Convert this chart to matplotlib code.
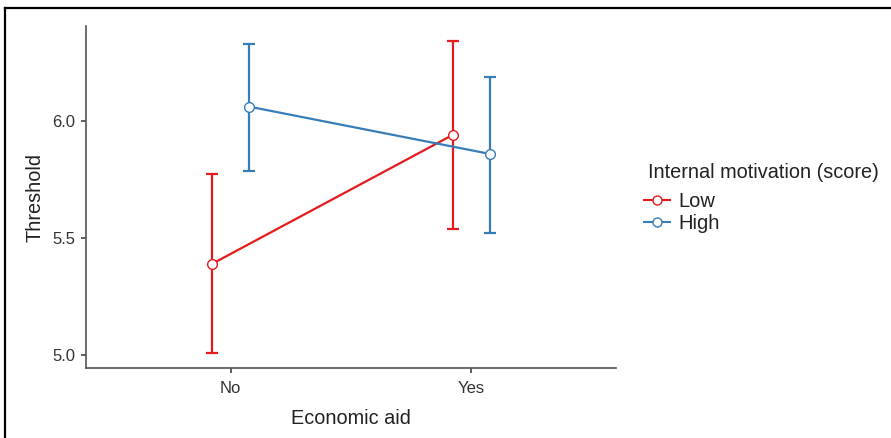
import matplotlib
matplotlib.use("Agg")
import matplotlib.pyplot as plt
from matplotlib.lines import Line2D
import numpy as np

plt.rcParams['font.family'] = ['Liberation Sans', 'DejaVu Sans']

# Data: estimated marginal means of threshold with confidence limits
aid_levels = ["No", "Yes"]
groups = ["Low", "High"]
means = {"Low": [5.389, 5.940], "High": [6.060, 5.858]}
lower = {"Low": [5.009, 5.538], "High": [5.786, 5.521]}
upper = {"Low": [5.774, 6.342], "High": [6.329, 6.188]}
colors = {"Low": "#E41A1C", "High": "#377EB8"}
dodge = {"Low": -0.076, "High": 0.076}
y_ticks = [5.0, 5.5, 6.0]

W, H, DPI = 891, 438, 100
fig = plt.figure(figsize=(W / DPI, H / DPI), dpi=DPI)
ax = fig.add_axes([86 / W, 1 - 368 / H, (616 - 86) / W, (368 - 26) / H])

x = np.arange(len(aid_levels))
for g in groups:
    xs = x + dodge[g]
    m = np.array(means[g])
    lo = m - np.array(lower[g])
    hi = np.array(upper[g]) - m
    ax.errorbar(xs, m, yerr=[lo, hi], color=colors[g], lw=1.6,
                capsize=4.5, capthick=1.6, fmt='none', zorder=2)
    ax.plot(xs, m, color=colors[g], lw=1.6, marker='o', ms=7,
            mfc='white', mec=colors[g], mew=1.0, zorder=3)

ax.set_xlim(-0.6, 1.6)
ax.set_ylim(4.944, 6.404)
ax.set_xticks(x)
ax.set_xticklabels(aid_levels)
ax.set_yticks(y_ticks)
ax.set_yticklabels([f"{v:.1f}" for v in y_ticks])

for side in ("top", "right"):
    ax.spines[side].set_visible(False)
for side in ("left", "bottom"):
    ax.spines[side].set_color("#555555")
    ax.spines[side].set_linewidth(1.2)
ax.tick_params(axis='both', colors="#333333", labelsize=12, length=3.5,
               width=1.1, labelcolor="#333333")
ax.tick_params(axis='x', pad=6)
ax.tick_params(axis='y', pad=4)

ax.set_xlabel("Economic aid", fontsize=14.3, color="#222222", labelpad=9)
ax.set_ylabel("Threshold", fontsize=14.3, color="#222222", labelpad=6)

# Legend: title drawn as figure text, entries as a legend below it
fig.text(648 / W, 1 - 172 / H, "Internal motivation (score)", fontsize=14.3,
         color="#222222", ha="left", va="center")
handles = [Line2D([], [], color=colors[g], lw=1.5, marker='o', ms=6.5,
                  mfc='white', mec=colors[g], mew=1.0) for g in groups]
leg = fig.legend(handles, groups, loc="upper left",
                 bbox_to_anchor=(636 / W, 1 - 184 / H),
                 frameon=False, fontsize=14.5,
                 handlelength=1.3, handletextpad=0.4, labelspacing=0.15,
                 borderaxespad=0)
for t in leg.get_texts():
    t.set_color("#222222")

# Outer frame lines (top and left edges)
fig.add_artist(Line2D([5 / W, 1], [1 - 7.5 / H, 1 - 7.5 / H], color="black",
                      lw=1.6, transform=fig.transFigure))
fig.add_artist(Line2D([5 / W, 5 / W], [0, 1 - 7.5 / H], color="black",
                      lw=1.6, transform=fig.transFigure))

fig.savefig("out.png", dpi=DPI)
